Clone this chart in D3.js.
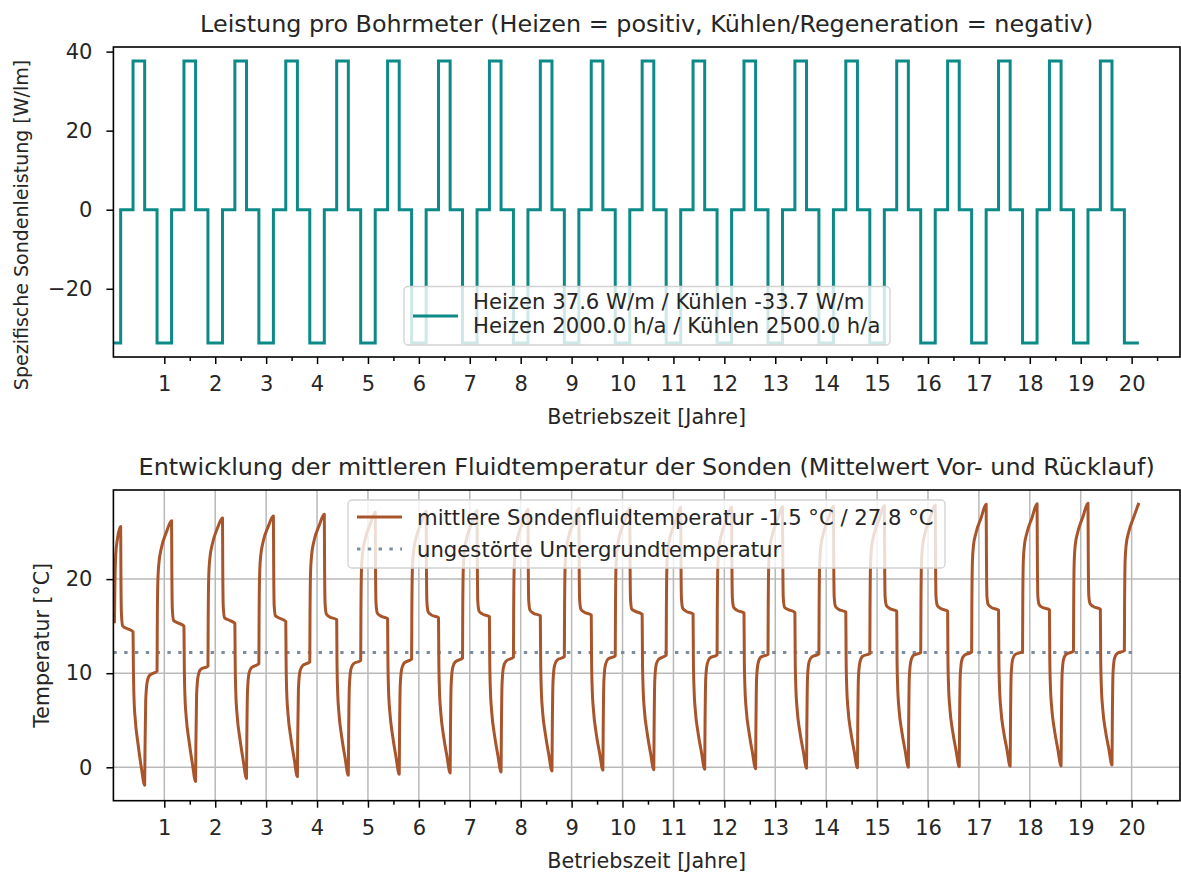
<!DOCTYPE html>
<html>
<head>
<meta charset="utf-8">
<script src="https://cdn.jsdelivr.net/npm/d3@7"></script>
<style>
  body { margin: 0; background: #fff; }
  svg text { font-family: "DejaVu Sans", sans-serif; fill: #262626; }
</style>
</head>
<body>
<svg id="chart" width="1181" height="874"></svg>
<script>
// ---------------- data ----------------
const xTickYears = [1, 2, 3, 4, 5, 6, 7, 8, 9, 10, 11, 12, 13, 14, 15, 16, 17, 18, 19, 20];
const xMinorTicks = [1.5, 2.5, 3.5, 4.5, 5.5, 6.5, 7.5, 8.5, 9.5, 10.5, 11.5, 12.5, 13.5, 14.5, 15.5, 16.5, 17.5, 18.5, 19.5, 20.5];
const powerTicks = [-20, 0, 20, 40];
const tempTicks = [0, 10, 20];

// annual load profile: start of each phase (fraction of a year) and specific power [W/m]
const heatingPower = 37.6;
const coolingPower = -33.7;
const profileStart = [0, 0.1427, 0.3858, 0.6142, 0.8573];
const profilePower = [coolingPower, 0, heatingPower, 0, coolingPower];
const operatingYears = 20;
const simulationEnd = 20.1427;

// undisturbed ground temperature [°C]
const groundTemp = 12.2;

// mean fluid temperature: start of operation (cooling in year 0)
const startTimes = [0.02, 0.03, 0.045, 0.08, 0.1427];
const startTemps = [15.3, 19.5, 22.5, 24.3, 25.6];

// sample times inside each phase (years after the phase begins)
const coolOffsets = [0.004, 0.015, 0.035, 0.085, 0.185, 0.2854];
const restOffsets = [0.005, 0.015, 0.04, 0.1, 0.2431];
const heatOffsets = [0.006, 0.018, 0.045, 0.1, 0.165, 0.2284];
const recoverOffsets = [0.006, 0.02, 0.05, 0.1, 0.2431];

// pause after cooling, year 0..19 [°C]
const restTemps = [
  [20.5, 16.3, 15.0, 14.8, 14.4],
  [21.1, 16.8, 15.6, 15.4, 15.0],
  [21.5, 17.1, 15.9, 15.7, 15.3],
  [21.7, 17.2, 16.1, 15.9, 15.5],
  [21.8, 17.4, 16.3, 16.0, 15.7],
  [22.0, 17.5, 16.4, 16.1, 15.8],
  [22.1, 17.6, 16.5, 16.2, 15.9],
  [22.2, 17.6, 16.6, 16.3, 16.0],
  [22.3, 17.7, 16.7, 16.4, 16.1],
  [22.4, 17.8, 16.8, 16.5, 16.2],
  [22.4, 17.8, 16.8, 16.6, 16.25],
  [22.5, 17.9, 16.9, 16.6, 16.3],
  [22.6, 18.0, 17.0, 16.7, 16.4],
  [22.6, 18.0, 17.0, 16.8, 16.45],
  [22.7, 18.1, 17.1, 16.8, 16.5],
  [22.8, 18.1, 17.2, 16.9, 16.6],
  [22.8, 18.1, 17.2, 16.9, 16.6],
  [22.9, 18.2, 17.3, 17.0, 16.7],
  [22.9, 18.2, 17.3, 17.0, 16.75],
  [23.0, 18.3, 17.4, 17.1, 16.8]
];

// heating period, year 0..19 [°C]
const heatTemps = [
  [11.0, 7.5, 5.0, 2.4, -0.1, -1.9],
  [11.2, 7.8, 5.3, 2.8, 0.4, -1.5],
  [11.3, 8.0, 5.5, 3.0, 0.7, -1.2],
  [11.4, 8.1, 5.6, 3.1, 0.9, -1.0],
  [11.4, 8.2, 5.7, 3.2, 1.0, -0.85],
  [11.5, 8.3, 5.8, 3.3, 1.1, -0.75],
  [11.5, 8.3, 5.8, 3.3, 1.2, -0.6],
  [11.5, 8.4, 5.9, 3.4, 1.3, -0.5],
  [11.6, 8.4, 5.9, 3.5, 1.4, -0.4],
  [11.6, 8.5, 6.0, 3.5, 1.5, -0.3],
  [11.6, 8.5, 6.0, 3.6, 1.5, -0.25],
  [11.6, 8.5, 6.0, 3.6, 1.6, -0.2],
  [11.7, 8.6, 6.1, 3.7, 1.6, -0.15],
  [11.7, 8.6, 6.1, 3.7, 1.7, -0.1],
  [11.7, 8.6, 6.1, 3.7, 1.7, -0.05],
  [11.7, 8.7, 6.2, 3.8, 1.8, 0.0],
  [11.7, 8.7, 6.2, 3.8, 1.8, 0.05],
  [11.8, 8.7, 6.2, 3.8, 1.9, 0.1],
  [11.8, 8.8, 6.3, 3.9, 1.9, 0.15],
  [11.8, 8.8, 6.3, 3.9, 2.0, 0.25]
];

// recovery after heating, year 0..19 [°C]
const recoverTemps = [
  [1.7, 7.0, 9.1, 9.8, 10.2],
  [2.4, 7.7, 9.7, 10.4, 10.75],
  [2.8, 8.1, 10.0, 10.6, 11.0],
  [3.0, 8.3, 10.2, 10.8, 11.2],
  [3.2, 8.5, 10.4, 11.0, 11.35],
  [3.3, 8.7, 10.5, 11.1, 11.5],
  [3.5, 8.8, 10.6, 11.2, 11.6],
  [3.6, 8.9, 10.7, 11.3, 11.7],
  [3.7, 9.0, 10.8, 11.4, 11.75],
  [3.8, 9.2, 10.9, 11.5, 11.85],
  [3.9, 9.3, 11.0, 11.5, 11.9],
  [4.0, 9.4, 11.0, 11.6, 11.95],
  [4.1, 9.5, 11.1, 11.7, 12.0],
  [4.1, 9.6, 11.2, 11.7, 12.05],
  [4.2, 9.6, 11.2, 11.8, 12.1],
  [4.3, 9.7, 11.3, 11.9, 12.2],
  [4.3, 9.8, 11.4, 11.9, 12.25],
  [4.4, 9.9, 11.5, 12.0, 12.3],
  [4.4, 9.9, 11.5, 12.0, 12.35],
  [4.5, 10.0, 11.6, 12.1, 12.4]
];

// cooling period spanning the turn of year 1..20 [°C]
const coolTemps = [
  [14.5, 19.6, 21.6, 23.3, 25.0, 26.2],
  [15.1, 20.2, 22.1, 23.7, 25.4, 26.5],
  [15.4, 20.5, 22.4, 24.0, 25.6, 26.7],
  [15.6, 20.7, 22.5, 24.1, 25.7, 26.9],
  [15.8, 20.9, 22.7, 24.2, 25.8, 27.1],
  [15.9, 21.0, 22.8, 24.3, 25.9, 27.2],
  [16.1, 21.1, 22.9, 24.4, 26.0, 27.3],
  [16.2, 21.2, 22.9, 24.4, 26.1, 27.4],
  [16.3, 21.3, 23.0, 24.5, 26.1, 27.5],
  [16.4, 21.4, 23.1, 24.6, 26.2, 27.55],
  [16.4, 21.4, 23.1, 24.6, 26.2, 27.6],
  [16.5, 21.5, 23.2, 24.7, 26.3, 27.65],
  [16.6, 21.6, 23.3, 24.7, 26.3, 27.7],
  [16.6, 21.6, 23.3, 24.8, 26.4, 27.75],
  [16.7, 21.7, 23.4, 24.8, 26.4, 27.8],
  [16.8, 21.8, 23.4, 24.9, 26.5, 27.85],
  [16.8, 21.8, 23.5, 24.9, 26.5, 27.95],
  [16.9, 21.9, 23.5, 24.9, 26.5, 28.0],
  [16.9, 21.9, 23.6, 25.0, 26.6, 28.05],
  [17.0, 22.0, 23.6, 25.0, 26.6, 28.1]
];

const powerLegend = ["Heizen 37.6 W/m / Kühlen -33.7 W/m", "Heizen 2000.0 h/a / Kühlen 2500.0 h/a"];
const tempLegend = ["mittlere Sondenfluidtemperatur -1.5 °C / 27.8 °C", "ungestörte Untergrundtemperatur"];

// ---------------- series ----------------
const powerSeries = [];
for (let k = 0; k < operatingYears; k++) {
  profileStart.forEach((s, i) => powerSeries.push({ t: k + s, v: profilePower[i] }));
}
powerSeries.push({ t: simulationEnd, v: coolingPower });

const tempSeries = startTimes.map((t, i) => ({ t, v: startTemps[i] }));
for (let k = 0; k < operatingYears; k++) {
  restOffsets.forEach((o, i) => tempSeries.push({ t: k + profileStart[1] + o, v: restTemps[k][i] }));
  heatOffsets.forEach((o, i) => tempSeries.push({ t: k + profileStart[2] + o, v: heatTemps[k][i] }));
  recoverOffsets.forEach((o, i) => tempSeries.push({ t: k + profileStart[3] + o, v: recoverTemps[k][i] }));
  coolOffsets.forEach((o, i) => tempSeries.push({ t: k + profileStart[4] + o, v: coolTemps[k][i] }));
}

// ---------------- layout ----------------
const svg = d3.select("#chart");
const plotLeft = 113.4, plotRight = 1180;
const top1 = 47, bottom1 = 357;
const top2 = 490, bottom2 = 800.7;

const TEAL = "#0b8a88";
const SIENNA = "#a9552c";
const SLATE = "#7b8da0";
const GRID = "#b9b9b9";

const TICK_FONT = 21;
const LABEL_FONT = 20.7;
const TITLE_FONT = 23.85;
const LEGEND_FONT = 21.2;

const x = d3.scaleLinear().domain([0, 20.95]).range([plotLeft, plotRight]);
const yP = d3.scaleLinear().domain([-37.265, 41.165]).range([bottom1, top1]);
const yT = d3.scaleLinear().domain([-3.55, 29.47]).range([bottom2, top2]);

function drawAxes(g, y, yTicks, top, bottom) {
  // x axis: major and minor ticks
  const xa = g.append("g").attr("transform", `translate(0,${bottom})`)
    .call(d3.axisBottom(x).tickValues(xTickYears).tickFormat(d3.format("d")).tickSize(7).tickPadding(12.5));
  const xm = g.append("g").attr("transform", `translate(0,${bottom})`)
    .call(d3.axisBottom(x).tickValues(xMinorTicks).tickFormat("").tickSize(4));
  const ya = g.append("g").attr("transform", `translate(${plotLeft},0)`)
    .call(d3.axisLeft(y).tickValues(yTicks).tickFormat(d3.format("d")).tickSize(7).tickPadding(14));
  [xa, xm, ya].forEach(a => {
    a.select(".domain").remove();
    a.selectAll(".tick line").attr("stroke", "#000").attr("stroke-width", 1.5);
    a.selectAll(".tick text").attr("font-size", TICK_FONT).attr("fill", "#262626")
      .attr("font-family", "DejaVu Sans, sans-serif");
  });
  // frame
  g.append("rect").attr("x", plotLeft).attr("y", top)
    .attr("width", plotRight - plotLeft).attr("height", bottom - top)
    .attr("fill", "none").attr("stroke", "#000").attr("stroke-width", 1.6);
}

function clip(id, top, bottom) {
  svg.append("clipPath").attr("id", id).append("rect")
    .attr("x", plotLeft).attr("y", top).attr("width", plotRight - plotLeft).attr("height", bottom - top);
}
clip("clipTop", top1, bottom1);
clip("clipBottom", top2, bottom2);

// ---------------- top chart: specific power ----------------
const g1 = svg.append("g");
g1.append("text").attr("x", (plotLeft + plotRight) / 2).attr("y", 32)
  .attr("text-anchor", "middle").attr("font-size", TITLE_FONT)
  .text("Leistung pro Bohrmeter (Heizen = positiv, Kühlen/Regeneration = negativ)");

g1.append("path").datum(powerSeries)
  .attr("clip-path", "url(#clipTop)")
  .attr("fill", "none").attr("stroke", TEAL).attr("stroke-width", 3)
  .attr("stroke-linejoin", "miter")
  .attr("d", d3.line().x(d => x(d.t)).y(d => yP(d.v)).curve(d3.curveStepAfter));

drawAxes(g1, yP, powerTicks, top1, bottom1);

g1.append("text").attr("x", (plotLeft + plotRight) / 2).attr("y", bottom1 + 67)
  .attr("text-anchor", "middle").attr("font-size", LABEL_FONT).text("Betriebszeit [Jahre]");
g1.append("text").attr("transform", `translate(28,225) rotate(-90)`)
  .attr("text-anchor", "middle").attr("font-size", 19).text("Spezifische Sondenleistung [W/lm]");

// legend (top)
const lg1 = g1.append("g");
lg1.append("rect").attr("x", 404).attr("y", 286.5).attr("width", 486).attr("height", 58.5)
  .attr("rx", 4).attr("fill", "rgba(255,255,255,0.8)").attr("stroke", "#d2d2d2").attr("stroke-width", 1.3);
lg1.append("line").attr("x1", 413).attr("x2", 458).attr("y1", 316).attr("y2", 316)
  .attr("stroke", TEAL).attr("stroke-width", 3);
powerLegend.forEach((s, i) => {
  lg1.append("text").attr("x", 473).attr("y", 309 + i * 24.4).attr("font-size", LEGEND_FONT).text(s);
});

// ---------------- bottom chart: fluid temperature ----------------
const g2 = svg.append("g");
g2.append("text").attr("x", (plotLeft + plotRight) / 2).attr("y", 475)
  .attr("text-anchor", "middle").attr("font-size", TITLE_FONT)
  .text("Entwicklung der mittleren Fluidtemperatur der Sonden (Mittelwert Vor- und Rücklauf)");

// grid
const grid = g2.append("g").attr("stroke", GRID).attr("stroke-width", 1.5);
grid.selectAll("line.v").data(xTickYears).join("line")
  .attr("x1", d => x(d)).attr("x2", d => x(d)).attr("y1", top2).attr("y2", bottom2);
grid.selectAll("line.h").data(tempTicks).join("line")
  .attr("x1", plotLeft).attr("x2", plotRight).attr("y1", d => yT(d)).attr("y2", d => yT(d));

g2.append("path").datum([{ t: 0, v: groundTemp }, { t: simulationEnd, v: groundTemp }])
  .attr("clip-path", "url(#clipBottom)")
  .attr("fill", "none").attr("stroke", SLATE).attr("stroke-width", 3)
  .attr("stroke-dasharray", "3.4 7.4")
  .attr("d", d3.line().x(d => x(d.t)).y(d => yT(d.v)));

g2.append("path").datum(tempSeries)
  .attr("clip-path", "url(#clipBottom)")
  .attr("fill", "none").attr("stroke", SIENNA).attr("stroke-width", 3)
  .attr("stroke-linejoin", "round")
  .attr("d", d3.line().x(d => x(d.t)).y(d => yT(d.v)).curve(d3.curveMonotoneX));

drawAxes(g2, yT, tempTicks, top2, bottom2);

g2.append("text").attr("x", (plotLeft + plotRight) / 2).attr("y", bottom2 + 67)
  .attr("text-anchor", "middle").attr("font-size", LABEL_FONT).text("Betriebszeit [Jahre]");
g2.append("text").attr("transform", `translate(49,${(top2 + bottom2) / 2}) rotate(-90)`)
  .attr("text-anchor", "middle").attr("font-size", 20.5).text("Temperatur [°C]");

// legend (bottom)
const lg2 = g2.append("g");
lg2.append("rect").attr("x", 348).attr("y", 500).attr("width", 597).attr("height", 68)
  .attr("rx", 4).attr("fill", "rgba(255,255,255,0.8)").attr("stroke", "#d2d2d2").attr("stroke-width", 1.3);
lg2.append("line").attr("x1", 357).attr("x2", 402).attr("y1", 517).attr("y2", 517)
  .attr("stroke", SIENNA).attr("stroke-width", 3);
lg2.append("line").attr("x1", 357).attr("x2", 402).attr("y1", 549).attr("y2", 549)
  .attr("stroke", SLATE).attr("stroke-width", 3).attr("stroke-dasharray", "3.4 7.4");
tempLegend.forEach((s, i) => {
  lg2.append("text").attr("x", 417).attr("y", 524.5 + i * 32).attr("font-size", LEGEND_FONT).text(s);
});
</script>
</body>
</html>
